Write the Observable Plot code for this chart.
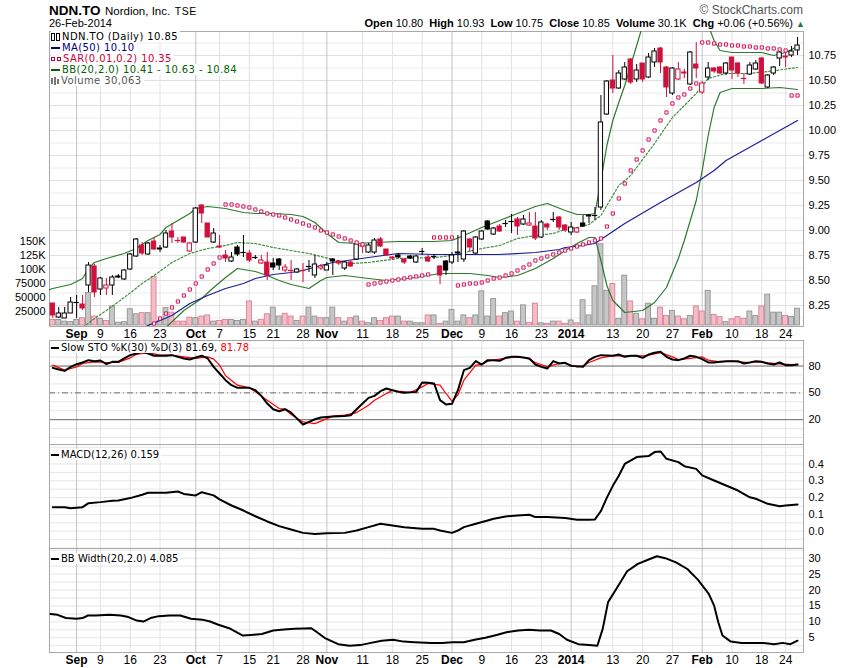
<!DOCTYPE html>
<html><head><meta charset="utf-8">
<script src="https://cdn.jsdelivr.net/npm/d3@7"></script>
<script src="https://cdn.jsdelivr.net/npm/@observablehq/plot@0.6"></script>
<style>
body{margin:0;background:#fff;}
#chart{position:relative;width:850px;height:668px;background:#fff;font-family:"Liberation Sans",Arial,sans-serif;overflow:hidden;color:#000;}
.abs{position:absolute;white-space:nowrap;}
.leg{position:absolute;left:51px;font-family:"DejaVu Sans",Verdana,sans-serif;font-size:10px;line-height:11px;white-space:nowrap;}
.leg div{background:#fff;display:table;padding-right:2px;}
.ic{display:inline-block;vertical-align:middle;margin-right:2px;}
</style></head><body><div id="chart"></div>
<script>
// ---------- x axis: trading-day index (0 = 3-Sep-2013) ----------
const firstIdx = -4;
const tickIdx = [0,4,9,14,20,24,29,33,38,42,48,53,58,63,68,73,78,83,90,95,100,105,110,115,119];
const tickLabels = ["Sep","9","16","23","Oct","7","15","21","28","Nov","11","18","25","Dec","9","16","23","2014","13","20","27","Feb","10","18","24"];
const tickIsMonth = [1,0,0,0,1,0,0,0,0,1,0,0,0,1,0,0,0,1,0,0,0,1,0,0,0];

// ---------- daily OHLC (idx -4 .. 121) ----------
const prevCloseBefore = 8.30;
const opens = [8.27,8.13,8.12,8.17,8.28,8.26,8.45,8.64,8.41,8.42,
8.45,8.53,8.51,8.61,8.74,8.85,8.76,8.89,8.81,8.83,
8.99,8.90,8.93,8.79,8.88,9.25,9.07,8.88,8.84,8.75,
8.69,8.83,8.78,8.77,8.73,8.67,8.68,8.67,8.71,8.60,
8.60,8.58,8.60,8.64,8.55,8.62,8.60,8.71,8.69,8.62,
8.68,8.71,8.85,8.78,8.78,8.91,8.81,8.73,8.75,8.71,
8.74,8.68,8.79,8.73,8.74,8.64,8.69,8.68,8.77,8.71,
8.91,8.77,8.91,9.09,8.96,9.04,9.07,9.09,9.11,9.06,
9.05,9.04,8.93,9.06,9.11,9.13,9.05,8.98,8.98,9.07,
9.14,9.15,9.23,10.16,10.50,10.42,10.51,10.71,10.51,10.67,
10.53,10.68,10.82,10.63,10.37,10.51,10.58,10.46,10.66,10.38,
10.53,10.62,10.63,10.57,10.73,10.67,10.52,10.56,10.61,10.72,
10.43,10.57,10.72,10.74,10.75,10.80];
const highs = [8.27,8.23,8.23,8.33,8.35,8.35,8.68,8.66,8.53,8.52,
8.55,8.56,8.61,8.77,8.92,8.88,8.88,8.93,8.85,9.00,
9.07,8.93,8.93,8.88,9.23,9.26,9.07,9.02,8.95,8.80,
8.78,8.85,8.95,8.80,8.75,8.75,8.78,8.72,8.72,8.66,
8.70,8.62,8.67,8.70,8.75,8.66,8.68,8.72,8.70,8.69,
8.70,8.87,8.88,8.87,8.92,8.93,8.81,8.74,8.77,8.71,
8.75,8.75,8.82,8.75,8.76,8.65,8.70,8.78,8.95,9.00,
8.92,8.94,9.00,9.10,9.03,9.06,9.10,9.16,9.13,9.15,
9.18,9.18,9.10,9.07,9.18,9.14,9.06,9.08,9.03,9.15,
9.16,9.23,10.35,10.50,10.75,10.60,10.68,10.72,10.66,10.67,
10.77,10.82,10.83,10.64,10.63,10.68,10.61,10.79,10.88,10.49,
10.68,10.63,10.64,10.68,10.73,10.68,10.57,10.68,10.70,10.73,
10.56,10.64,10.80,10.77,10.84,10.93];
const lows = [8.12,8.12,8.12,8.17,8.12,8.20,8.38,8.33,8.35,8.35,
8.35,8.52,8.50,8.60,8.73,8.75,8.75,8.80,8.78,8.82,
8.87,8.87,8.87,8.78,8.87,9.07,8.93,8.87,8.82,8.68,
8.68,8.74,8.73,8.68,8.71,8.66,8.50,8.60,8.60,8.58,
8.50,8.57,8.48,8.58,8.52,8.60,8.60,8.55,8.65,8.60,
8.63,8.70,8.77,8.77,8.76,8.83,8.74,8.70,8.72,8.66,
8.71,8.67,8.75,8.68,8.71,8.46,8.55,8.66,8.68,8.68,
8.78,8.76,8.90,9.00,8.95,8.98,9.03,8.97,8.95,9.05,
9.04,8.90,8.92,9.00,9.08,9.00,8.98,8.95,8.97,9.03,
9.07,9.10,9.20,10.15,10.37,10.41,10.50,10.46,10.48,10.48,
10.52,10.63,10.57,10.33,10.35,10.50,10.52,10.45,10.52,10.36,
10.50,10.57,10.56,10.55,10.51,10.53,10.46,10.55,10.60,10.46,
10.42,10.55,10.64,10.63,10.73,10.75];
const closes = [8.15,8.17,8.17,8.28,8.28,8.22,8.65,8.38,8.52,8.45,
8.53,8.54,8.60,8.76,8.91,8.77,8.87,8.81,8.82,8.97,
8.93,8.90,8.88,8.87,9.22,9.17,8.93,8.97,8.83,8.72,
8.73,8.76,8.78,8.70,8.73,8.70,8.55,8.63,8.65,8.63,
8.60,8.61,8.60,8.64,8.66,8.64,8.65,8.69,8.67,8.68,
8.64,8.86,8.84,8.85,8.90,8.84,8.75,8.72,8.73,8.68,
8.72,8.74,8.79,8.69,8.74,8.55,8.60,8.75,8.78,8.99,
8.83,8.93,8.99,9.01,9.02,8.99,9.07,9.09,9.04,9.11,
9.07,8.92,9.08,9.03,9.11,9.03,9.00,9.03,9.02,9.04,
9.15,9.15,10.08,10.49,10.42,10.57,10.63,10.48,10.60,10.51,
10.73,10.79,10.68,10.43,10.62,10.61,10.57,10.78,10.62,10.47,
10.62,10.59,10.57,10.67,10.60,10.57,10.52,10.65,10.67,10.47,
10.55,10.63,10.78,10.73,10.79,10.85];
// volume in thousands
const volumesK = [10,10,7,6,10,13,58,16,12,8,
34,5,6,29,20,22,22,87,8,31,
23,7,7,14,13,16,18,7,8,10,
10,8,10,43,7,10,20,32,16,21,
16,8,16,32,16,13,13,32,13,7,
13,16,7,4,13,8,13,16,16,7,
7,4,4,18,18,3,7,28,7,18,
13,18,61,16,47,16,22,25,7,36,
5,39,4,3,7,7,3,9,4,45,
18,70,145,62,74,12,89,43,21,11,
39,12,32,17,26,16,11,17,34,25,
62,19,15,6,11,15,12,25,17,34,
55,23,23,17,15,30.06];

// ---------- Parabolic SAR (starts at idx 13) ----------
const sarStart = 13;
const sarValues = [8.07,8.12,8.17,8.23,8.29,8.35,8.41,8.47,8.54,8.61,
8.67,8.73,9.26,9.26,9.25,9.24,9.23,9.21,9.19,9.17,
9.16,9.15,9.13,9.11,9.09,9.07,9.05,9.03,9.00,8.98,
8.96,8.94,8.92,8.90,8.88,8.86,8.46,8.47,8.48,8.49,
8.50,8.51,8.52,8.53,8.54,8.55,8.56,8.93,8.93,8.93,
8.93,8.45,8.46,8.47,8.47,8.48,8.50,8.52,8.53,8.55,
8.57,8.60,8.63,8.66,8.70,8.72,8.74,8.76,8.78,8.80,
8.82,8.84,8.86,8.88,8.90,8.92,9.04,9.17,9.32,9.47,
9.60,9.71,9.80,9.91,10.00,10.10,10.18,10.27,10.33,10.36,
10.42,10.47,10.88,10.88,10.87,10.86,10.86,10.85,10.85,10.84,
10.84,10.83,10.83,10.82,10.82,10.81,10.80,10.35,10.35];

// ---------- overlays [day idx, value] ----------
const ma50 = [[11,8.02],[12,8.05],[16,8.15],[19,8.27],[22,8.35],[25,8.42],[28,8.47],[30,8.52],[33,8.56],[36,8.58],[38,8.60],[41,8.65],[43,8.68],[49,8.73],[54,8.77],[60,8.76],[66,8.76],[71,8.76],[77,8.78],[81,8.81],[82,8.83],[85,8.85],[87,8.87],[92,9.07],[98,9.28],[104,9.48],[107,9.60],[109,9.70],[115,9.90],[121,10.10]];
const bbUpper = [[-6,8.38],[-4,8.42],[-1,8.46],[0,8.49],[1,8.52],[2,8.62],[3,8.68],[5,8.72],[8,8.77],[10,8.82],[12,8.90],[14,8.96],[15,9.03],[17,9.10],[19,9.17],[20,9.22],[22,9.24],[25,9.22],[28,9.18],[30,9.17],[33,9.17],[36,9.16],[38,9.14],[40,9.08],[42,8.97],[44,8.88],[47,8.87],[50,8.88],[54,8.89],[60,8.89],[63,8.90],[65,8.95],[68,9.03],[71,9.10],[74,9.17],[77,9.24],[79,9.27],[82,9.20],[84,9.16],[86,9.16],[87,9.17],[88,9.50],[89,9.85],[90,10.10],[91,10.28],[92,10.45],[93,10.65],[94,10.85],[95,11.05],[97,11.30],[101,11.35],[104,11.25],[106,11.05],[107,10.90],[108,10.80],[110,10.78],[115,10.78],[117,10.75],[119,10.78],[121,10.84]];
const bbMiddle = [[0,7.99],[1,8.03],[3,8.12],[5,8.20],[8,8.33],[11,8.47],[13,8.55],[16,8.68],[19,8.77],[22,8.82],[25,8.85],[27,8.88],[30,8.87],[33,8.83],[36,8.80],[39,8.77],[41,8.74],[43,8.71],[46,8.67],[49,8.68],[54,8.72],[60,8.73],[63,8.75],[65,8.78],[68,8.82],[71,8.85],[74,8.92],[77,8.95],[80,8.97],[82,9.01],[84,9.03],[86,9.06],[88,9.15],[89,9.25],[91,9.45],[93,9.55],[97,9.87],[100,10.13],[104,10.37],[106,10.52],[109,10.57],[113,10.57],[116,10.59],[121,10.63]];
const bbLower = [[14,7.98],[15,8.03],[18,8.20],[21,8.32],[23,8.43],[25,8.53],[27,8.62],[30,8.59],[32,8.55],[34,8.50],[36,8.46],[39,8.42],[41,8.50],[42,8.53],[45,8.55],[49,8.52],[52,8.50],[57,8.53],[61,8.57],[66,8.57],[69,8.55],[71,8.53],[74,8.55],[77,8.62],[80,8.72],[82,8.80],[84,8.87],[86,8.93],[87,8.93],[88,8.70],[89,8.45],[90,8.30],[92,8.18],[95,8.20],[97,8.28],[99,8.43],[101,8.72],[102,8.90],[104,9.30],[105,9.60],[106,9.95],[107,10.23],[108,10.38],[110,10.42],[115,10.42],[118,10.43],[121,10.41]];

// ---------- indicator panels [day idx, value] ----------
const stoK = [[-4,78.0],[-3,76.1],[-2,74.6],[-1,79.1],[0,82.1],[1,84.0],[2,86.6],[3,85.5],[4,86.2],[5,82.1],[6,84.7],[7,84.7],[8,88.5],[9,92.2],[10,94.1],[11,96.0],[12,94.1],[13,91.5],[15,91.5],[16,92.2],[17,90.3],[18,88.5],[19,87.3],[20,89.6],[21,91.5],[22,88.5],[23,79.1],[24,71.7],[25,64.2],[26,58.6],[27,55.6],[29,55.6],[30,53.0],[31,46.6],[32,38.0],[33,31.7],[34,29.4],[35,31.7],[36,27.9],[37,21.2],[38,14.5],[39,17.5],[40,20.5],[41,22.4],[43,23.5],[45,24.2],[46,25.0],[47,31.7],[48,38.0],[49,44.4],[50,46.6],[51,51.9],[52,54.9],[53,53.0],[54,51.1],[55,50.0],[57,51.1],[58,61.6],[59,61.3],[60,60.5],[61,41.8],[62,37.0],[63,37.7],[64,53.0],[65,75.4],[66,78.0],[67,85.5],[68,81.7],[69,86.6],[70,86.6],[71,85.8],[72,89.2],[73,90.3],[74,90.3],[75,89.6],[76,88.5],[77,81.7],[78,79.1],[79,77.2],[80,85.5],[81,82.9],[82,83.6],[83,80.2],[85,79.1],[86,86.6],[87,90.3],[88,92.2],[90,91.5],[91,92.9],[92,90.3],[93,91.5],[94,91.5],[95,89.2],[96,92.9],[97,94.8],[98,96.0],[99,90.3],[100,87.3],[101,86.6],[102,88.5],[103,91.5],[104,90.3],[105,87.7],[106,84.0],[107,84.0],[108,84.7],[109,85.5],[111,85.5],[112,82.9],[113,84.0],[114,85.5],[115,84.7],[116,82.9],[117,81.7],[118,84.0],[119,81.0],[120,81.0],[121,81.69]];
const stoD = [[-4,81.0],[-2,75.4],[0,79.1],[1,82.9],[3,84.7],[5,84.0],[7,84.0],[9,89.2],[10,92.9],[12,95.1],[14,92.2],[16,92.2],[18,90.3],[20,88.5],[22,90.3],[23,87.7],[24,81.0],[25,69.1],[27,58.6],[29,55.6],[30,51.1],[32,41.8],[34,32.4],[35,31.7],[36,25.7],[38,17.5],[40,15.6],[42,21.2],[43,23.9],[45,25.0],[47,27.9],[49,36.1],[50,41.8],[52,49.3],[53,53.0],[54,51.9],[56,50.4],[58,56.7],[59,60.5],[61,58.6],[62,49.3],[63,40.7],[64,47.4],[65,64.2],[67,81.0],[68,81.7],[69,85.5],[70,86.6],[71,87.7],[73,89.6],[75,89.6],[76,87.7],[77,84.0],[79,79.1],[80,81.0],[81,82.9],[82,82.9],[84,79.1],[85,80.2],[86,84.0],[88,89.2],[90,91.5],[91,91.5],[93,91.5],[95,91.5],[96,92.2],[98,95.1],[100,90.3],[101,87.3],[103,88.5],[105,90.3],[106,86.6],[108,84.7],[110,85.5],[111,84.7],[113,84.0],[115,84.7],[116,83.6],[118,82.5],[120,81.7],[121,81.78]];
const macd = [[-4,0.143],[-2,0.143],[-1,0.137],[1,0.143],[2,0.167],[4,0.173],[6,0.181],[7,0.183],[9,0.197],[11,0.217],[12,0.229],[15,0.229],[17,0.236],[18,0.222],[20,0.213],[21,0.232],[23,0.213],[24,0.189],[26,0.153],[28,0.123],[30,0.089],[32,0.058],[34,0.030],[36,0.010],[38,-0.010],[40,-0.016],[42,-0.012],[45,-0.010],[47,0.004],[49,0.024],[51,0.044],[53,0.034],[55,0.024],[58,0.014],[60,0.014],[61,0.004],[63,-0.010],[64,0.004],[65,0.024],[67,0.044],[69,0.064],[70,0.074],[72,0.088],[74,0.094],[76,0.098],[77,0.084],[79,0.084],[82,0.078],[84,0.068],[86,0.068],[87,0.070],[88,0.120],[89,0.200],[90,0.270],[91,0.330],[92,0.400],[94,0.441],[96,0.447],[97,0.471],[98,0.475],[99,0.431],[101,0.411],[102,0.387],[104,0.371],[105,0.332],[107,0.302],[109,0.272],[111,0.242],[113,0.202],[114,0.193],[116,0.163],[118,0.149],[119,0.153],[121,0.159]];
const bbWidth = [[-4.4,12.5],[-3.2,12.2],[-1.8,11.2],[0,11.0],[1,11.2],[1.9,12.0],[3.2,12.0],[5.5,12.2],[7.4,12.0],[8.7,11.5],[10.1,10.4],[11.2,10.1],[12.4,11.2],[13.8,11.8],[15.6,12.0],[17.4,12.0],[19.2,11.0],[21.1,10.7],[22.4,10.1],[23.8,9.1],[25.6,8.0],[27.9,5.7],[29.3,5.9],[31.1,6.2],[33,7.3],[34.8,7.6],[36.6,7.8],[39.4,8.0],[40.3,6.8],[41.6,5.0],[43.9,3.0],[45.8,2.5],[47.6,2.7],[49.4,3.4],[51.2,4.1],[53.1,4.4],[54.9,3.8],[56.7,3.6],[59.5,3.4],[61.3,3.4],[63.1,3.6],[65,3.6],[66.8,4.4],[68.6,5.0],[70.5,5.9],[72.3,6.8],[74.1,7.3],[75.9,7.5],[77.8,7.3],[79.6,7.3],[81,6.2],[82.3,4.4],[84.2,3.0],[86,2.7],[87.4,2.5],[88.3,7.8],[89.2,16.2],[90.6,20.4],[92.4,25.9],[94.2,28.2],[96,29.6],[97.4,30.6],[98.8,30.0],[100.6,28.7],[102.5,26.6],[104.3,23.2],[106.1,18.8],[107,15.1],[107.7,9.9],[108.4,5.7],[109.8,3.8],[111.6,3.4],[113.4,3.4],[115.3,3.4],[117.1,3.0],[118.5,3.4],[119.8,3.0],[121,4.085]];

// ---------- tick values for y axes ----------
const priceTicks = [8.25,8.50,8.75,9.00,9.25,9.50,9.75,10.00,10.25,10.50,10.75];
const volTicks = [25000,50000,75000,100000,125000,150000];
const volTickLabels = ["25000","50000","75000","100K","125K","150K"];
const stoTicks = [20,50,80];
const macdTicks = [0,0.1,0.2,0.3,0.4];
const bbwTicks = [5,10,15,20,25,30];

// ---------- build ----------
const RED = "#d0103c", SARC = "#d4145a", NAVY = "#1c1c9a", GREEN = "#2b7a2b";
const chart = document.getElementById("chart");
const xDom = [-4.55, 122.0];
const labelOf = new Map(tickIdx.map((d, k) => [d, tickLabels[k]]));
const monthTicks = tickIdx.filter((d, k) => tickIsMonth[k]);
const dayTicks = tickIdx.filter((d, k) => !tickIsMonth[k]);

const candles = opens.map((o, k) => ({
  i: firstIdx + k, o, h: highs[k], l: lows[k], c: closes[k],
  pc: k ? closes[k - 1] : prevCloseBefore, v: volumesK[k] * 1000
}));
const col = d => (d.c < d.pc ? RED : "#000");
const sar = sarValues.map((v, k) => ({i: sarStart + k, v}));

function addPlot(top, height, mt, mb, yDomain, marks) {
  const svg = Plot.plot({
    width: 850, height, marginLeft: 49, marginRight: 47, marginTop: mt, marginBottom: mb,
    x: {domain: xDom, axis: null}, y: {domain: yDomain, axis: null},
    color: {type: "identity"},
    style: `position:absolute;left:0;top:${top}px;background:transparent;overflow:visible;font-family:'Liberation Sans',Arial,sans-serif;font-size:11px;color:#000;`,
    marks
  });
  chart.appendChild(svg);
}
const xGrid = () => [
  Plot.gridX(dayTicks, {stroke: "#e2e2e2", strokeOpacity: 1}),
  Plot.gridX(monthTicks, {stroke: "#c2c2c2", strokeOpacity: 1})
];
const xLabels = () => [
  Plot.axisX(monthTicks, {anchor: "bottom", tickSize: 0, tickPadding: 3, label: null, tickFormat: d => labelOf.get(d), fontSize: 12, fontWeight: "bold"}),
  Plot.axisX(dayTicks, {anchor: "bottom", tickSize: 0, tickPadding: 3, label: null, tickFormat: d => labelOf.get(d), fontSize: 12})
];
const rightAxis = (ticks, fmt) => Plot.axisY(ticks, {anchor: "right", tickSize: 0, tickPadding: 5, label: null, tickFormat: fmt, fontSize: 11});

const priceDom = [8.04, 10.99];
// layer 1: price grid, frame, axes
addPlot(31, 309, 0, 14, priceDom, [
  Plot.gridY(d3.range(8.125, 10.99, 0.125), {stroke: "#ececec", strokeOpacity: 1}),
  Plot.gridY(priceTicks, {stroke: "#e0e0e0", strokeOpacity: 1}),
  ...xGrid(),
  Plot.frame({stroke: "#a8a8a8"}),
  rightAxis(priceTicks, d => d.toFixed(2)),
  ...xLabels()
]);
// layer 2: volume
addPlot(31, 295, 0, 1, [0, 525000], [
  Plot.rect(candles, {x1: d => d.i - 0.42, x2: d => d.i + 0.42, y1: 0, y2: "v",
    fill: d => (d.c < d.pc ? "#f2bdc6" : "#c6c6c6"),
    stroke: d => (d.c < d.pc ? "#d4788c" : "#8a8a8a"), strokeWidth: 0.8}),
  Plot.axisY(volTicks, {anchor: "left", tickSize: 0, tickPadding: 4, label: null,
    tickFormat: d => volTickLabels[volTicks.indexOf(d)], fontSize: 11})
]);
// layer 3: price marks
addPlot(31, 309, 0, 14, priceDom, [
  Plot.line(bbUpper, {x: d => d[0], y: d => d[1], stroke: GREEN, strokeWidth: 1.2, clip: true}),
  Plot.line(bbLower, {x: d => d[0], y: d => d[1], stroke: GREEN, strokeWidth: 1.2, clip: true}),
  Plot.line(bbMiddle, {x: d => d[0], y: d => d[1], stroke: "#3f8f3f", strokeWidth: 1.2, strokeDasharray: "2,2", clip: true}),
  Plot.line(ma50, {x: d => d[0], y: d => d[1], stroke: NAVY, strokeWidth: 1.2, clip: true}),
  Plot.ruleX(candles, {x: "i", y1: "l", y2: "h", stroke: col, strokeWidth: 1, clip: true}),
  Plot.rect(candles.filter(d => d.c !== d.o), {x1: d => d.i - 0.36, x2: d => d.i + 0.36, y1: "o", y2: "c",
    fill: d => (d.c > d.o ? "#fff" : col(d)), stroke: col, strokeWidth: 1, clip: true}),
  Plot.ruleY(candles.filter(d => d.c === d.o), {y: "c", x1: d => d.i - 0.45, x2: d => d.i + 0.45, stroke: col, strokeWidth: 1.2}),
  Plot.dot(sar, {x: "i", y: "v", symbol: "square", r: 1.8, stroke: SARC, fill: "#fff", strokeWidth: 1, clip: true})
]);
// STO panel
addPlot(340, 104, 0, 0, [-7.8, 108.6], [
  Plot.gridY(d3.range(0, 101, 10), {stroke: "#e6e6e6", strokeOpacity: 1}),
  ...xGrid(),
  Plot.ruleY([80, 20], {stroke: "#6e6e6e", strokeWidth: 1}),
  Plot.ruleY([50], {stroke: "#6e6e6e", strokeWidth: 1, strokeDasharray: "6,3,1,3"}),
  Plot.frame({stroke: "#a8a8a8"}),
  Plot.line(stoD, {x: d => d[0], y: d => d[1], stroke: "#ff0000", strokeWidth: 1.2, clip: true}),
  Plot.line(stoK, {x: d => d[0], y: d => d[1], stroke: "#000", strokeWidth: 2, clip: true}),
  rightAxis(stoTicks, d => String(d))
]);
// MACD panel
addPlot(444, 104, 0, 0, [-0.103, 0.516], [
  Plot.gridY(d3.range(-0.1, 0.51, 0.05), {stroke: "#e6e6e6", strokeOpacity: 1}),
  ...xGrid(),
  Plot.frame({stroke: "#a8a8a8"}),
  Plot.line(macd, {x: d => d[0], y: d => d[1], stroke: "#000", strokeWidth: 2, clip: true}),
  rightAxis(macdTicks, d => d.toFixed(1))
]);
// BB Width panel
addPlot(548, 120, 0, 16, [0.38, 33.04], [
  Plot.gridY(d3.range(2.5, 33, 2.5), {stroke: "#e6e6e6", strokeOpacity: 1}),
  ...xGrid(),
  Plot.frame({stroke: "#a8a8a8"}),
  Plot.line(bbWidth, {x: d => d[0], y: d => d[1], stroke: "#000", strokeWidth: 2, clip: true}),
  rightAxis(bbwTicks, d => String(d)),
  ...xLabels()
]);

// ---------- text (HTML) ----------
function html(s) { chart.insertAdjacentHTML("beforeend", s); }
html(`<div class="abs" style="left:49px;top:1px;line-height:18px;"><b style="font-size:13.5px;">NDN.TO</b> <span style="font-size:11.5px;">Nordion, Inc.</span> <span style="font-size:10.5px;letter-spacing:0.6px;">TSE</span></div>`);
html(`<div class="abs" style="left:49px;top:16px;font-size:11px;line-height:14px;">26-Feb-2014</div>`);
html(`<div class="abs" style="right:47px;top:3px;font-size:12px;line-height:14px;color:#555;">&copy; StockCharts.com</div>`);
html(`<div class="abs" style="right:45px;top:16px;font-size:11px;line-height:14px;"><b>Open</b> 10.80&nbsp; <b>High</b> 10.93&nbsp; <b>Low</b> 10.75&nbsp; <b>Close</b> 10.85&nbsp; <b>Volume</b> 30.1K&nbsp; <b>Chg</b> +0.06 (+0.56%) <span style="color:#2b7a2b;font-size:9px;">&#9650;</span></div>`);
html(`<div class="leg" style="top:31px;letter-spacing:0.4px;">
<div><span class="ic" style="width:2px;height:6px;border:1px solid #000;"></span><span class="ic" style="width:2px;height:6px;border:1px solid #000;margin-left:-1px;"></span>NDN.TO (Daily) 10.85</div>
<div style="color:#000080;"><span class="ic" style="width:9px;height:2px;background:#000080;"></span>MA(50) 10.10</div>
<div style="color:#cc0033;"><span class="ic" style="width:2px;height:2px;border:1px solid #cc0033;"></span><span class="ic" style="width:2px;height:2px;border:1px solid #cc0033;"></span>SAR(0.01,0.2) 10.35</div>
<div style="color:#006400;"><span class="ic" style="width:9px;height:2px;background:#006400;"></span>BB(20,2.0) 10.41 - 10.63 - 10.84</div>
<div style="color:#555;"><span class="ic" style="width:2px;height:6px;background:#777;"></span><span class="ic" style="width:2px;height:8px;background:#777;margin-left:-1px;"></span><span class="ic" style="width:2px;height:5px;background:#777;margin-left:-1px;"></span>Volume 30,063</div>
</div>`);
html(`<div class="leg" style="top:342px;"><div><span class="ic" style="width:8px;height:2px;background:#000;"></span>Slow STO %K(30) %D(3) 81.69, <span style="color:#ff0000;">81.78</span></div></div>`);
html(`<div class="leg" style="top:449px;"><div><span class="ic" style="width:8px;height:2px;background:#000;"></span>MACD(12,26) 0.159</div></div>`);
html(`<div class="leg" style="top:553px;"><div><span class="ic" style="width:8px;height:2px;background:#000;"></span>BB Width(20,2.0) 4.085</div></div>`);
</script></body></html>
